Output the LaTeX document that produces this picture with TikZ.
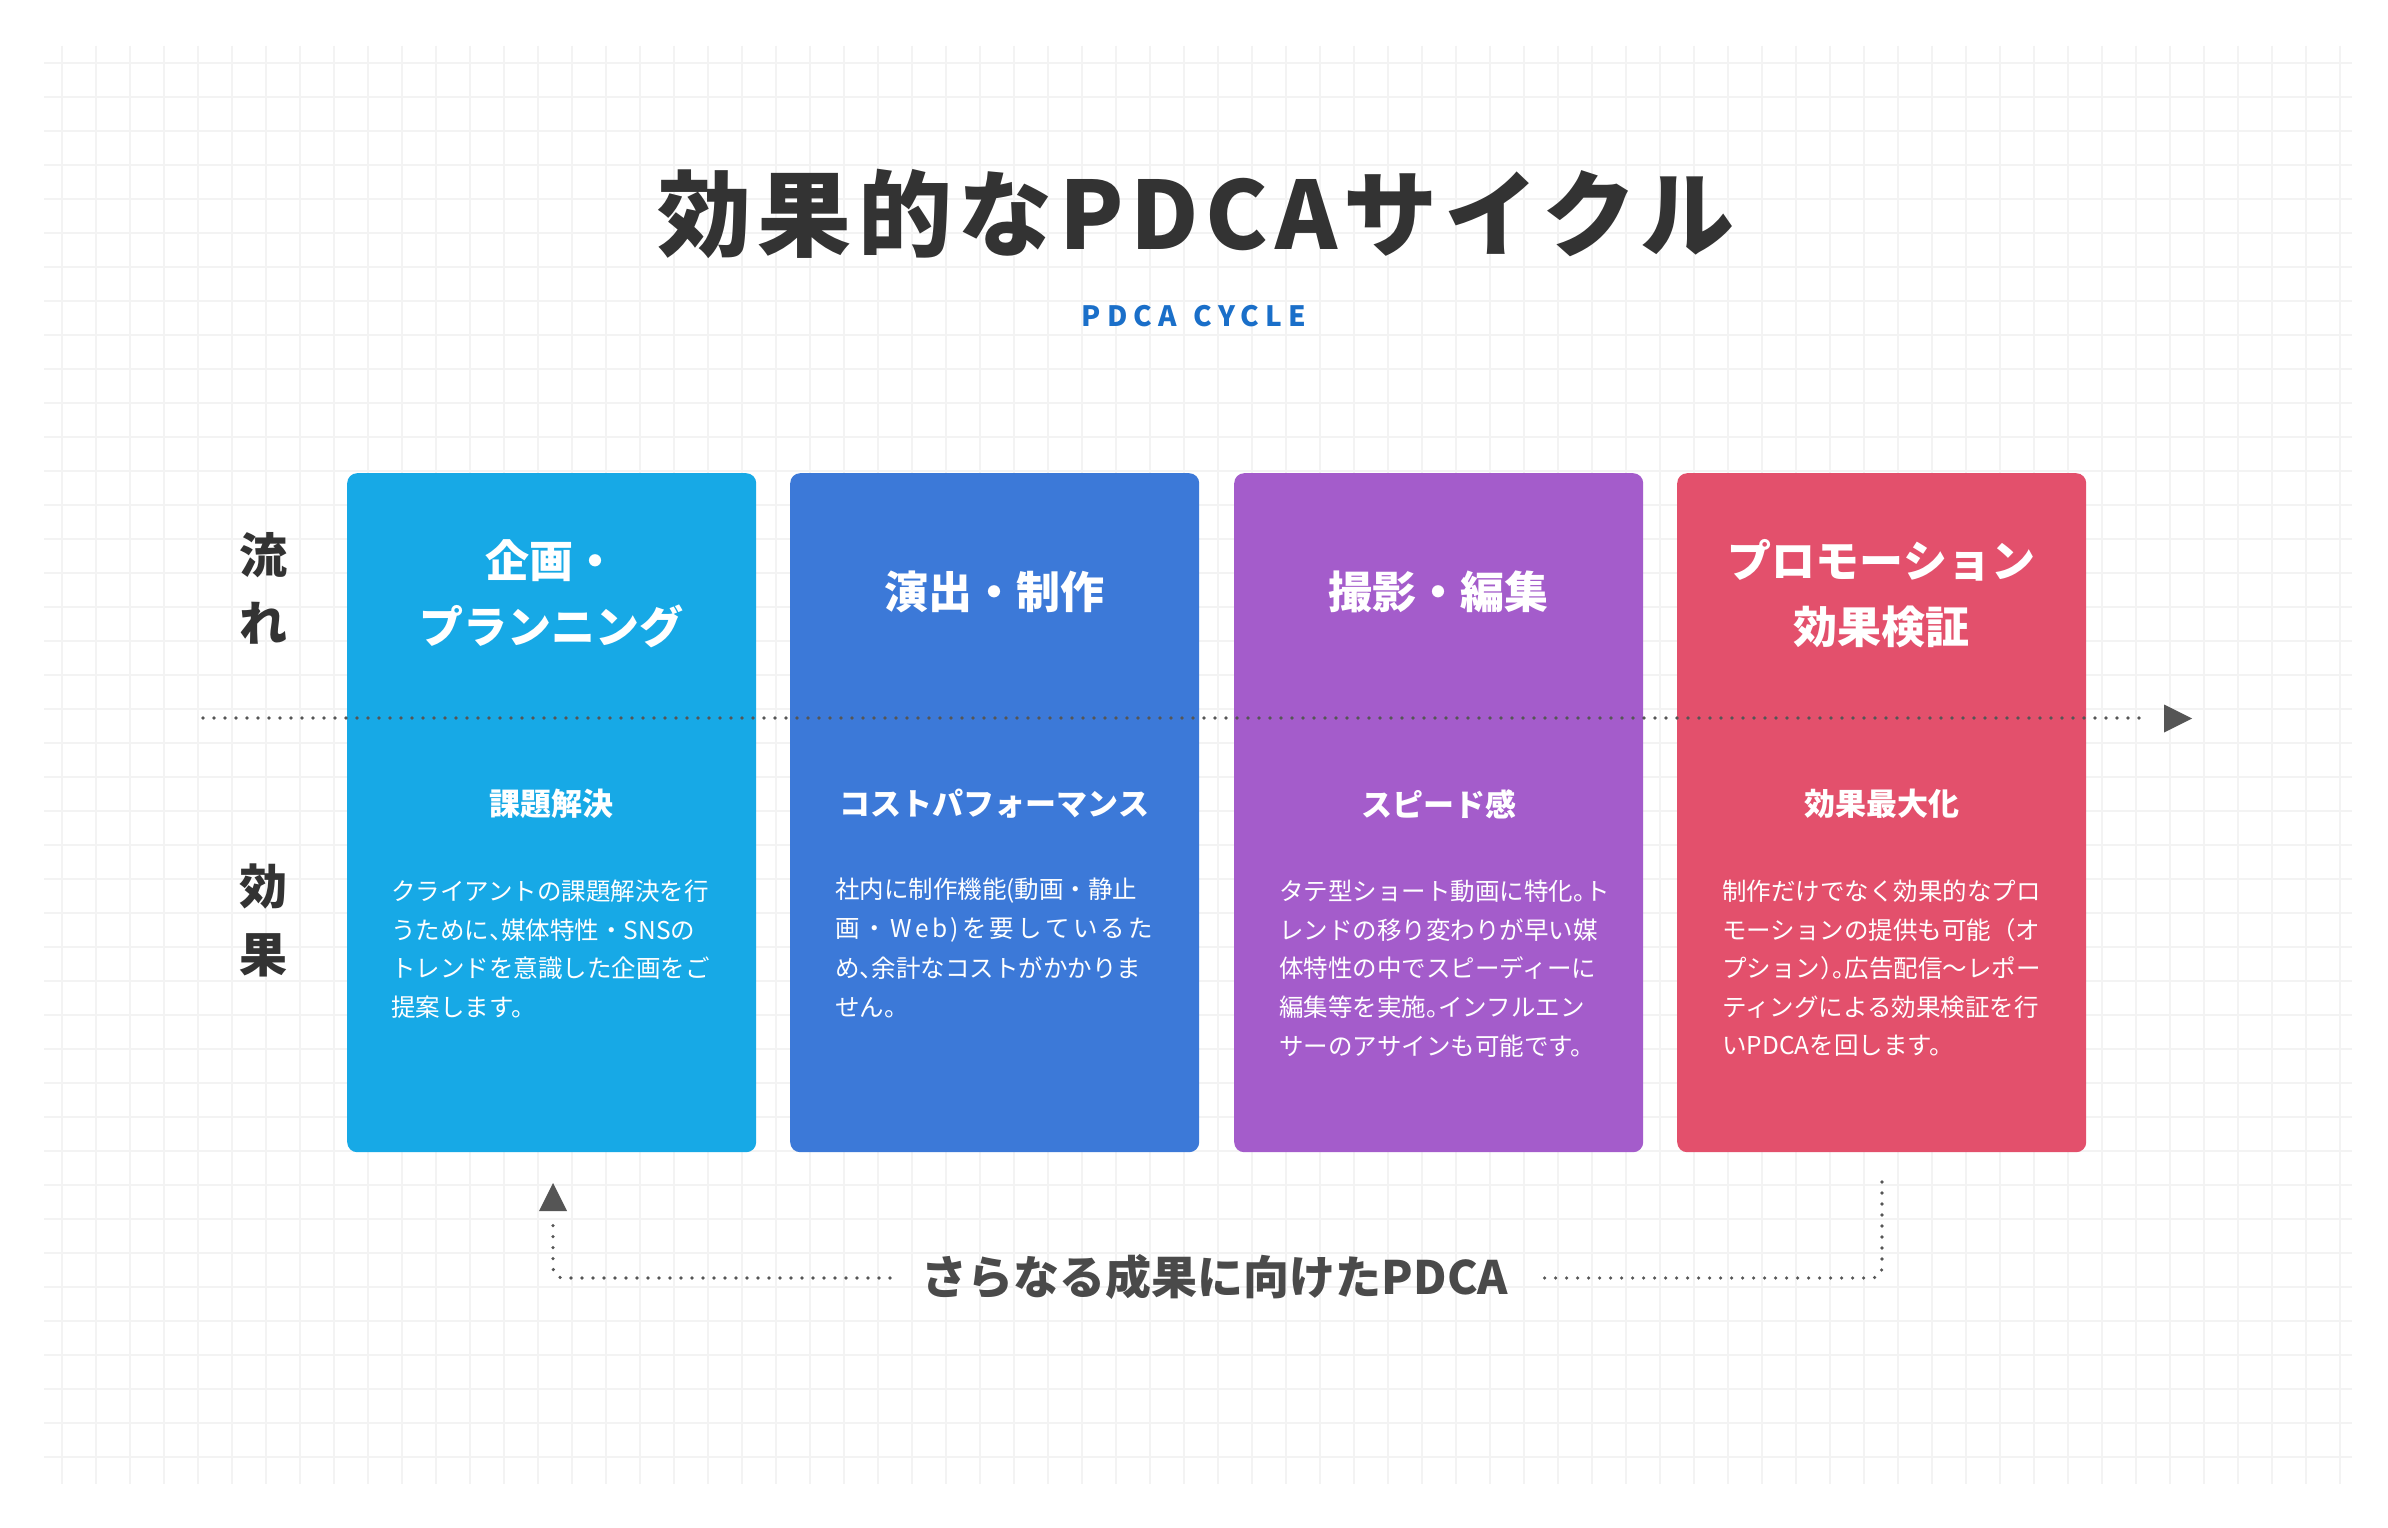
\documentclass[tikz,border=0pt]{standalone}
\usepackage{fontspec}
\setmainfont{Noto Sans CJK JP}
\definecolor{ink}{HTML}{333333}
\definecolor{ink2}{HTML}{4A4A4A}
\definecolor{cA}{HTML}{17A9E6}
\definecolor{cB}{HTML}{3C79D8}
\definecolor{cC}{HTML}{A45CCB}
\definecolor{cD}{HTML}{E3506C}
\definecolor{subc}{HTML}{1A6FC9}
\definecolor{gridc}{HTML}{F3F3F3}
\definecolor{dotc}{HTML}{555555}
\newcommand\hwp[1]{\makebox[0.5em][l]{#1}}
\begin{document}
\begin{tikzpicture}[x=1pt,y=-1pt,
  gridline/.style={draw=gridc,line width=1.4pt},
  card/.style={rounded corners=10pt,inner sep=0pt,minimum width=409pt,minimum height=679pt,anchor=north west,draw=none},
  head/.style={text=white,align=center,inner sep=0pt,font=\bfseries\fontsize{44pt}{66pt}\selectfont},
  subhead/.style={text=white,inner sep=0pt,font=\bfseries\fontsize{31pt}{31pt}\selectfont},
  bodyline/.style={text=white,inner sep=0pt,anchor=west,font=\fontsize{24.5pt}{24.5pt}\selectfont},
  side/.style={text=ink,align=center,inner sep=0pt,font=\bfseries\fontsize{48pt}{68pt}\selectfont},
  dotline/.style={draw=dotc,line width=3.6pt,line cap=round,dash pattern=on 0pt off 11pt},
  tipfill/.style={fill=dotc,draw=none}]
\useasboundingbox (0,0) rectangle (2388,1528);
\fill[white] (0,0) rectangle (2388,1528);
% grid
\foreach \i in {0,...,41} \draw[gridline] (44,{63+34*\i}) -- (2352,{63+34*\i});
\foreach \i in {0,...,67} \draw[gridline] ({62+34*\i},46) -- ({62+34*\i},1484);
% title
\node[text=ink,inner sep=0pt,font=\bfseries\fontsize{94pt}{94pt}\selectfont\addfontfeature{LetterSpace=7}] (title) at (1196,214) {効果的なPDCAサイクル};
\node[text=subc,inner sep=0pt,font=\bfseries\fontsize{28pt}{28pt}\selectfont\addfontfeature{LetterSpace=22}] (subtitle) at (1194,316) {PDCA\hspace{4pt} CYCLE};
% cards
\node[card,fill=cA] (k1) at (347,473) {};
\node[card,fill=cB] (k2) at (790,473) {};
\node[card,fill=cC] (k3) at (1234,473) {};
\node[card,fill=cD] (k4) at (1677,473) {};
% side labels
\node[side] (flow) at (263,588) {流\\れ};
\node[side] (eff) at (263,920) {効\\果};
% headings
\node[head] (h1) at (551.5,594) {企画・\\プランニング};
\node[head] (h2) at (994.5,592) {演出・制作};
\node[head] (h3) at (1438.5,592) {撮影・編集};
\node[head] (h4) at (1881.5,594) {プロモーション\\効果検証};
% sub headings
\node[subhead] (s1) at (551.5,804) {課題解決};
\node[subhead] (s2) at (994.5,804) {コストパフォーマンス};
\node[subhead] (s3) at (1438.5,804) {スピード感};
\node[subhead] (s4) at (1881.5,804) {効果最大化};
% body text
\foreach \t [count=\k] in {{クライアントの課題解決を行},{うために\hwp{、}媒体特性・SNSの},{トレンドを意識した企画をご},{提案します。}}
  \node[bodyline] (bA\k) at (391,{891+38.75*(\k-1)}) {\t};
\foreach \t [count=\k] in {{社内に制作機能(動画・静止},{\makebox[318pt][s]{画\hfill ・\hfill W\hfill e\hfill b\hfill )\hfill を\hfill 要\hfill し\hfill て\hfill い\hfill る\hfill た}},{め\hwp{、}余計なコストがかかりま},{せん。}}
  \node[bodyline] (bB\k) at (835,{891+38.75*(\k-1)}) {\t};
\foreach \t [count=\k] in {{タテ型ショート動画に特化\hwp{。}ト},{レンドの移り変わりが早い媒},{体特性の中でスピーディーに},{編集等を実施\hwp{。}インフルエン},{サーのアサインも可能です。}}
  \node[bodyline] (bC\k) at (1279,{891+38.75*(\k-1)}) {\t};
\foreach \t [count=\k] in {{制作だけでなく効果的なプロ},{モーションの提供も可能（オ},{プション\hwp{）}\hwp{。}広告配信〜レポー},{ティングによる効果検証を行},{いPDCAを回します。}}
  \node[bodyline] (bD\k) at (1722,{891+38.75*(\k-1)}) {\t};
% flow line
\coordinate (fs) at (203,718);
\coordinate (fe) at (2150,718);
\draw[dotline] (fs) -- (fe);
\fill[tipfill] (2164,704.5) -- (2192,718.5) -- (2164,732.5) -- cycle;
% return loop
\node[text=ink2,inner sep=0pt,font=\bfseries\fontsize{46pt}{46pt}\selectfont] (loop) at (1215,1277) {さらなる成果に向けたPDCA};
\coordinate (r0) at (1882,1182);
\coordinate (r1) at (1882,1278);
\coordinate (r2) at (1538,1278);
\coordinate (l0) at (890,1278);
\coordinate (l1) at (553,1278);
\coordinate (l2) at (553,1225);
\draw[dotline,rounded corners=10pt] (r0) -- (r1) -- (r2);
\draw[dotline,rounded corners=10pt] (l0) -- (l1) -- (l2);
\fill[tipfill] (553,1183) -- (567,1211) -- (539,1211) -- cycle;
\end{tikzpicture}
\end{document}
